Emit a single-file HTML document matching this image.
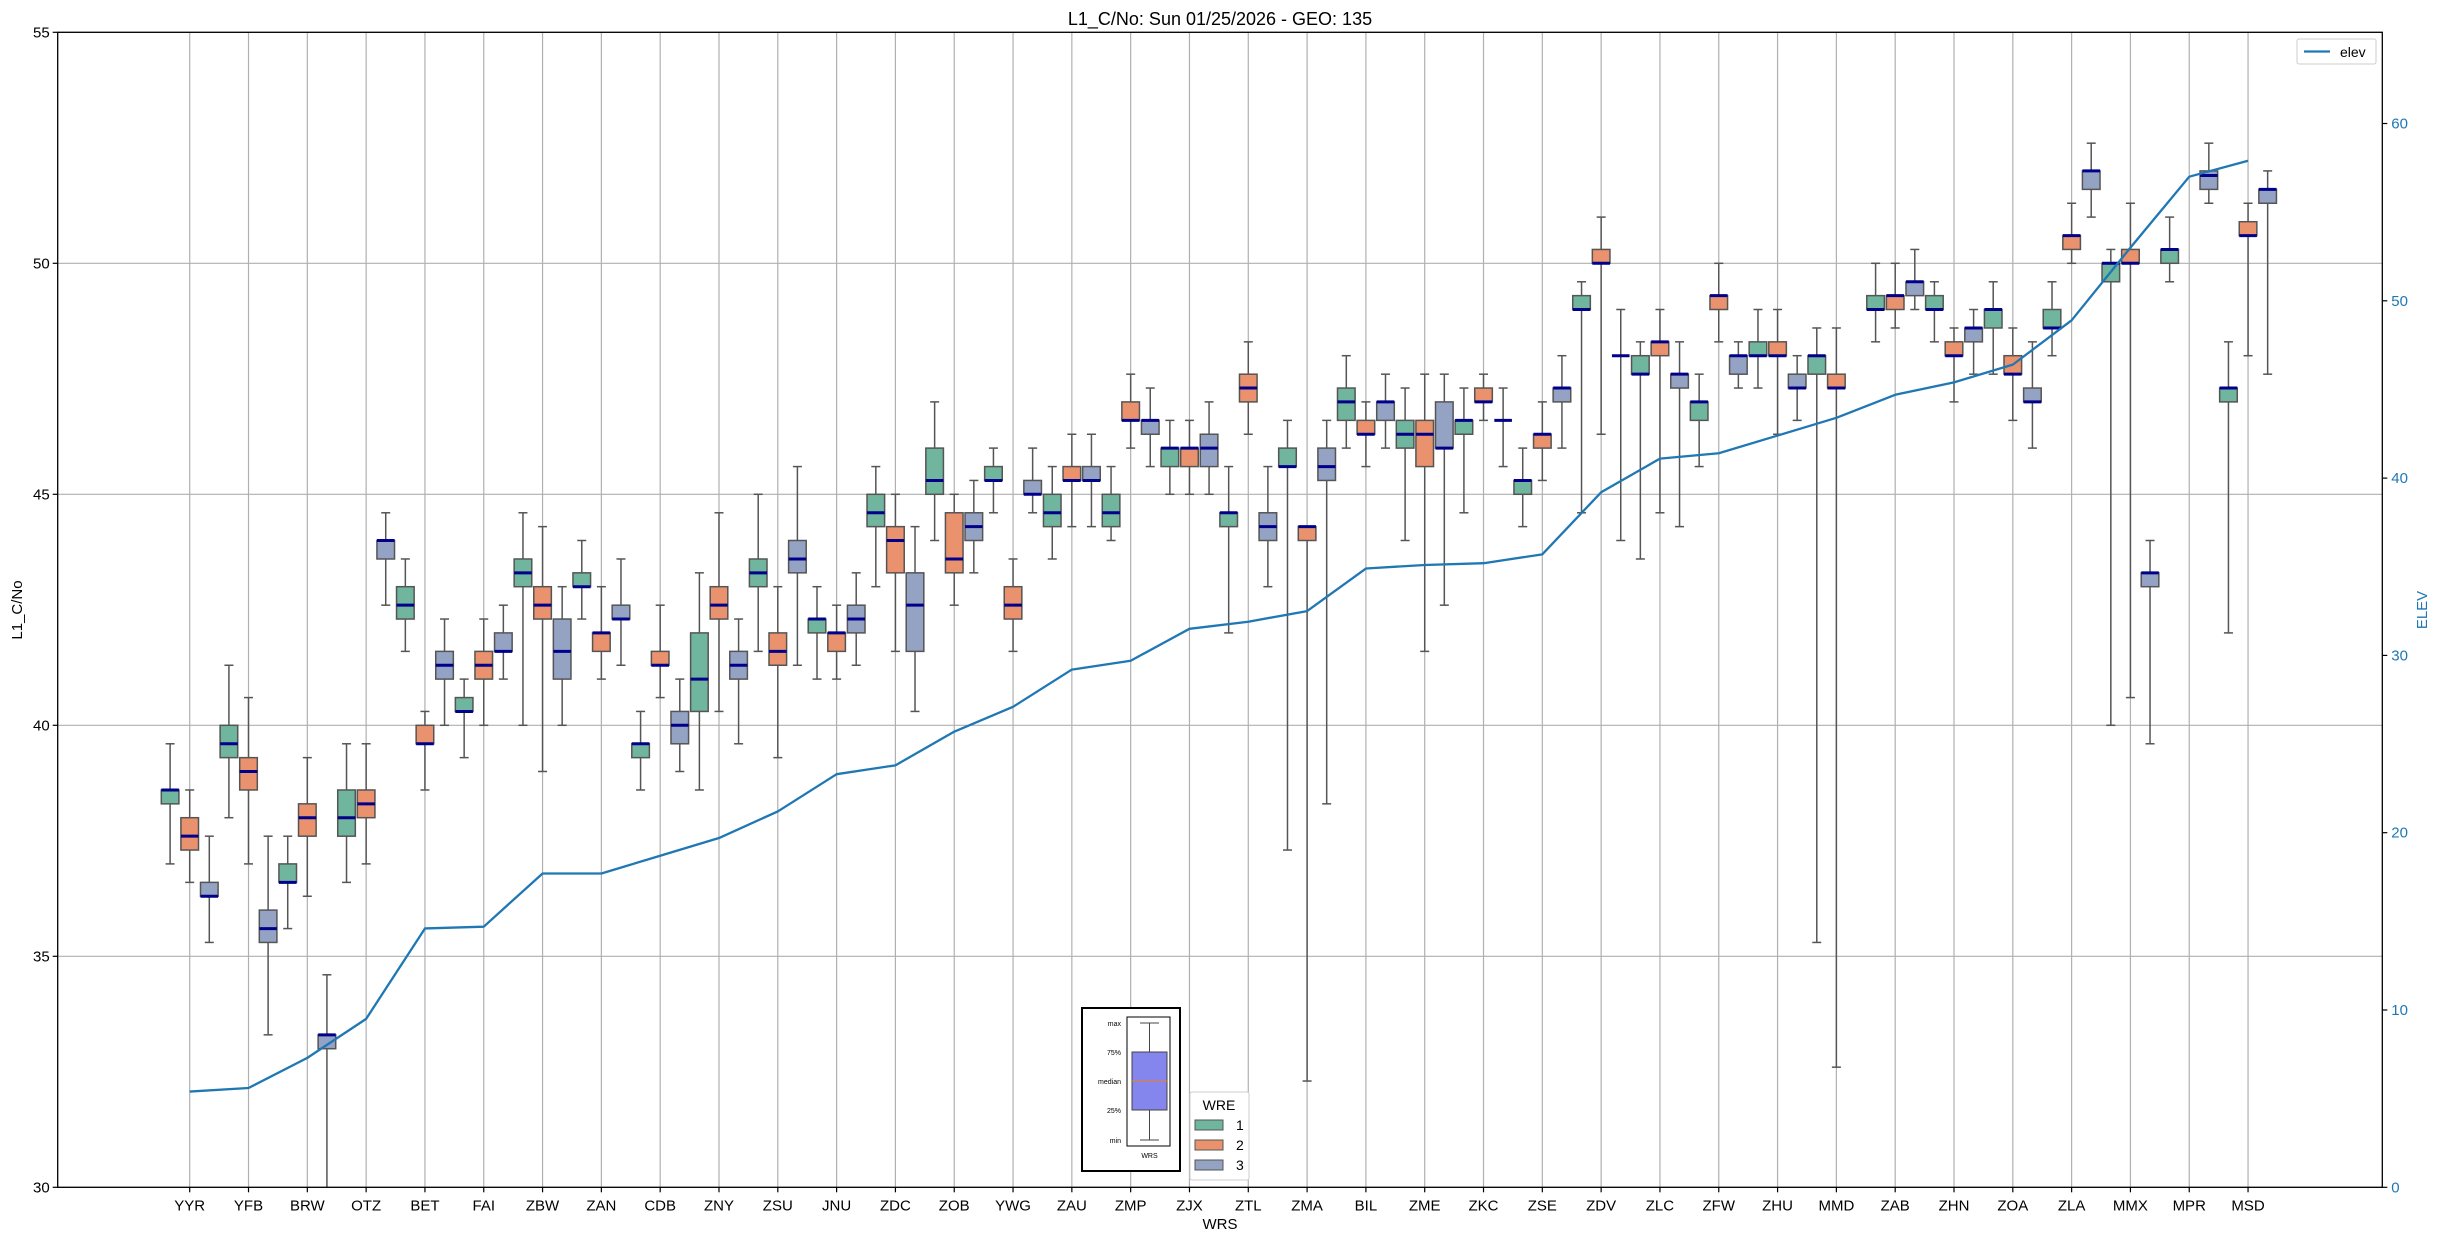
<!DOCTYPE html>
<html><head><meta charset="utf-8">
<style>
html,body{margin:0;padding:0;background:#fff;}
svg{display:block;font-family:"Liberation Sans","DejaVu Sans",sans-serif;}
</style></head>
<body>
<svg id="chart" width="2438" height="1240" viewBox="0 0 2438 1240" xmlns="http://www.w3.org/2000/svg">
<defs><clipPath id="plotclip"><rect x="57.7" y="32.3" width="2324.6" height="1155"/></clipPath></defs>
<rect x="0" y="0" width="2438" height="1240" fill="#fff"/>
<text x="1220" y="25" font-size="18" text-anchor="middle" fill="#000">L1_C/No: Sun 01/25/2026 - GEO: 135</text>
<g id="grid"></g>
<g id="boxes" clip-path="url(#plotclip)"></g>
<g id="elevg"></g>
<g id="axes"></g>
<text transform="translate(22,610) rotate(-90)" font-size="15" text-anchor="middle">L1_C/No</text>
<text transform="translate(2427,610) rotate(-90)" font-size="15" text-anchor="middle" fill="#1f77b4">ELEV</text>
<text x="1220" y="1229" font-size="15" text-anchor="middle">WRS</text>

<g>
<rect x="1082" y="1008" width="98" height="163" fill="#fff" stroke="#000" stroke-width="2"/>
<rect x="1127" y="1017" width="43" height="129" fill="#fff" stroke="#000" stroke-width="1"/>
<line x1="1149.5" y1="1023" x2="1149.5" y2="1140" stroke="#444" stroke-width="1"/>
<line x1="1140" y1="1023" x2="1159" y2="1023" stroke="#444"/>
<line x1="1140" y1="1140" x2="1159" y2="1140" stroke="#444"/>
<rect x="1132" y="1052" width="35" height="58" fill="#8585ee" stroke="#444"/>
<line x1="1132" y1="1081" x2="1167" y2="1081" stroke="#f08020" stroke-width="1"/>
<g font-size="7" text-anchor="end" fill="#000">
<text x="1121" y="1026">max</text><text x="1121" y="1055">75%</text><text x="1121" y="1084">median</text><text x="1121" y="1113">25%</text><text x="1121" y="1143">min</text>
</g>
<text x="1149.5" y="1158" font-size="7" text-anchor="middle">WRS</text>
</g>

<g>
<rect x="1190" y="1092" width="59" height="88" fill="#fff" stroke="#ccc" rx="2"/>
<text x="1219" y="1110" font-size="14" text-anchor="middle">WRE</text>
<rect x="1195" y="1120" width="28" height="10" fill="#70b59d" stroke="#555"/>
<text x="1236" y="1130" font-size="14">1</text>
<rect x="1195" y="1140" width="28" height="10" fill="#e9926d" stroke="#555"/>
<text x="1236" y="1150" font-size="14">2</text>
<rect x="1195" y="1160" width="28" height="10" fill="#94a3c4" stroke="#555"/>
<text x="1236" y="1170" font-size="14">3</text>
</g>

<g>
<rect x="2297" y="39" width="79" height="25" fill="#fff" stroke="#ccc" rx="2"/>
<line x1="2304" y1="51.5" x2="2330" y2="51.5" stroke="#1f77b4" stroke-width="2.3"/>
<text x="2340" y="57" font-size="14">elev</text>
</g>
</svg>
<script>
const cats = ["YYR","YFB","BRW","OTZ","BET","FAI","ZBW","ZAN","CDB","ZNY","ZSU","JNU","ZDC","ZOB","YWG","ZAU","ZMP","ZJX","ZTL","ZMA","BIL","ZME","ZKC","ZSE","ZDV","ZLC","ZFW","ZHU","MMD","ZAB","ZHN","ZOA","ZLA","MMX","MPR","MSD"];
const elev = [5.4,5.6,7.3,9.5,14.6,14.7,17.7,17.7,18.7,19.7,21.2,23.3,23.8,25.7,27.1,29.2,29.7,31.5,31.9,32.5,34.9,35.1,35.2,35.7,39.2,41.1,41.4,42.4,43.4,44.7,45.4,46.4,48.9,53.0,57.0,57.9];
// each entry: [min, q1, median, q3, max]
const wre1 = [[37.0,38.3,38.6,38.6,39.6],[38.0,39.3,39.6,40.0,41.3],[35.6,36.6,36.6,37.0,37.6],[36.6,37.6,38.0,38.6,39.6],[41.6,42.3,42.6,43.0,43.6],[39.3,40.3,40.3,40.6,41.0],[40.0,43.0,43.3,43.6,44.6],[42.3,43.0,43.0,43.3,44.0],[38.6,39.3,39.6,39.6,40.3],[38.6,40.3,41.0,42.0,43.3],[41.6,43.0,43.3,43.6,45.0],[41.0,42.0,42.3,42.3,43.0],[43.0,44.3,44.6,45.0,45.6],[44.0,45.0,45.3,46.0,47.0],[44.6,45.3,45.3,45.6,46.0],[43.6,44.3,44.6,45.0,45.6],[44.0,44.3,44.6,45.0,45.6],[45.0,45.6,46.0,46.0,46.6],[42.0,44.3,44.6,44.6,45.6],[37.3,45.6,45.6,46.0,46.6],[46.0,46.6,47.0,47.3,48.0],[44.0,46.0,46.3,46.6,47.3],[44.6,46.3,46.6,46.6,47.3],[44.3,45.0,45.3,45.3,46.0],[44.6,49.0,49.0,49.3,49.6],[43.6,47.6,47.6,48.0,48.3],[45.6,46.6,47.0,47.0,47.6],[47.3,48.0,48.0,48.3,49.0],[35.3,47.6,48.0,48.0,48.6],[48.3,49.0,49.0,49.3,50.0],[48.3,49.0,49.0,49.3,49.6],[47.6,48.6,49.0,49.0,49.6],[48.0,48.6,48.6,49.0,49.6],[40.0,49.6,50.0,50.0,50.3],[49.6,50.0,50.3,50.3,51.0],[42.0,47.0,47.3,47.3,48.3]];
const wre2 = [[36.6,37.3,37.6,38.0,38.6],[37.0,38.6,39.0,39.3,40.6],[36.3,37.6,38.0,38.3,39.3],[37.0,38.0,38.3,38.6,39.6],[38.6,39.6,39.6,40.0,40.3],[40.0,41.0,41.3,41.6,42.3],[39.0,42.3,42.6,43.0,44.3],[41.0,41.6,42.0,42.0,43.0],[40.6,41.3,41.3,41.6,42.6],[40.3,42.3,42.6,43.0,44.6],[39.3,41.3,41.6,42.0,43.0],[41.0,41.6,42.0,42.0,42.6],[41.6,43.3,44.0,44.3,45.0],[42.6,43.3,43.6,44.6,45.0],[41.6,42.3,42.6,43.0,43.6],[44.3,45.3,45.3,45.6,46.3],[46.0,46.6,46.6,47.0,47.6],[45.0,45.6,46.0,46.0,46.6],[46.3,47.0,47.3,47.6,48.3],[32.3,44.0,44.3,44.3,44.3],[45.6,46.3,46.3,46.6,47.0],[41.6,45.6,46.3,46.6,47.6],[46.6,47.0,47.0,47.3,47.6],[45.3,46.0,46.3,46.3,47.0],[46.3,50.0,50.0,50.3,51.0],[44.6,48.0,48.3,48.3,49.0],[48.3,49.0,49.3,49.3,50.0],[46.3,48.0,48.0,48.3,49.0],[32.6,47.3,47.3,47.6,48.6],[48.6,49.0,49.3,49.3,50.0],[47.0,48.0,48.0,48.3,48.6],[46.6,47.6,47.6,48.0,48.6],[50.0,50.3,50.6,50.6,51.3],[40.6,50.0,50.0,50.3,51.3],null,[48.0,50.6,50.6,50.9,51.3]];
const wre3 = [[35.3,36.3,36.3,36.6,37.6],[33.3,35.3,35.6,36.0,37.6],[29.0,33.0,33.3,33.3,34.6],[42.6,43.6,44.0,44.0,44.6],[40.0,41.0,41.3,41.6,42.3],[41.0,41.6,41.6,42.0,42.6],[40.0,41.0,41.6,42.3,43.0],[41.3,42.3,42.3,42.6,43.6],[39.0,39.6,40.0,40.3,41.0],[39.6,41.0,41.3,41.6,42.3],[41.3,43.3,43.6,44.0,45.6],[41.3,42.0,42.3,42.6,43.3],[40.3,41.6,42.6,43.3,44.3],[43.3,44.0,44.3,44.6,45.3],[44.6,45.0,45.0,45.3,46.0],[44.3,45.3,45.3,45.6,46.3],[45.6,46.3,46.6,46.6,47.3],[45.0,45.6,46.0,46.3,47.0],[43.0,44.0,44.3,44.6,45.6],[38.3,45.3,45.6,46.0,46.6],[46.0,46.6,47.0,47.0,47.6],[42.6,46.0,46.0,47.0,47.6],[45.6,46.6,46.6,46.6,47.3],[46.0,47.0,47.3,47.3,48.0],[44.0,48.0,48.0,48.0,49.0],[44.3,47.3,47.6,47.6,48.3],[47.3,47.6,48.0,48.0,48.3],[46.6,47.3,47.3,47.6,48.0],null,[49.0,49.3,49.6,49.6,50.3],[47.6,48.3,48.6,48.6,49.0],[46.0,47.0,47.0,47.3,48.3],[51.0,51.6,52.0,52.0,52.6],[39.6,43.0,43.3,43.3,44.0],[51.3,51.6,51.9,52.0,52.6],[47.6,51.3,51.6,51.6,52.0]];
const yTicks = [30,35,40,45,50,55];
const y2Ticks = [0,10,20,30,40,50,60];
const hueNames = ["1","2","3"];

const NS="http://www.w3.org/2000/svg";
const L=57.7,R=2382.3,T=32.3,B=1187.3;
function xPos(i){return 189.7+i*58.81;}
function yPos(v){return T+(55-v)*46.2;}
function y2Pos(v){return B-v*17.73;}
function mk(tag,attrs,parent){const e=document.createElementNS(NS,tag);for(const k in attrs)e.setAttribute(k,attrs[k]);parent.appendChild(e);return e;}

const grid=document.getElementById('grid'),boxes=document.getElementById('boxes'),axes=document.getElementById('axes'),elevg=document.getElementById('elevg');
yTicks.forEach(v=>{const g=mk('line',{x1:L,x2:R,y1:yPos(v),y2:yPos(v),stroke:'#b0b0b0','stroke-width':1.2},grid);

});
cats.forEach((c,i)=>{const g=mk('line',{x1:xPos(i),x2:xPos(i),y1:T,y2:B,stroke:'#b0b0b0','stroke-width':1.2},grid);

});

const fills=["#70b59d","#e9926d","#94a3c4"];
[wre1,wre2,wre3].forEach((series,h)=>{
  series.forEach((d,i)=>{
    if(!d) return;
    const cx=xPos(i)+(h-1)*19.6, w=17.6;
    const g=mk('g',{},boxes);
    
    
    mk('line',{x1:cx,x2:cx,y1:yPos(d[0]),y2:yPos(d[1]),stroke:'#555','stroke-width':1.5},g);
    mk('line',{x1:cx,x2:cx,y1:yPos(d[3]),y2:yPos(d[4]),stroke:'#555','stroke-width':1.5},g);
    mk('line',{x1:cx-4.5,x2:cx+4.5,y1:yPos(d[0]),y2:yPos(d[0]),stroke:'#555','stroke-width':1.5},g);
    mk('line',{x1:cx-4.5,x2:cx+4.5,y1:yPos(d[4]),y2:yPos(d[4]),stroke:'#555','stroke-width':1.5},g);
    const top=yPos(d[3]),bot=yPos(d[1]);
    if(bot-top>0.5) mk('rect',{x:cx-w/2,y:top,width:w,height:bot-top,fill:fills[h],stroke:'#555','stroke-width':1.5},g);
    mk('line',{x1:cx-w/2,x2:cx+w/2,y1:yPos(d[2]),y2:yPos(d[2]),stroke:'#00008b','stroke-width':3},g);
  });
});

// elev line
let pts=elev.map((v,i)=>xPos(i)+','+y2Pos(v)).join(' ');
const pl=mk('polyline',{points:pts,fill:'none',stroke:'#1f77b4','stroke-width':2.3,'stroke-linejoin':'round'},elevg);



// axes frame
mk('rect',{x:L,y:T,width:R-L,height:B-T,fill:'none',stroke:'#000','stroke-width':1.3},axes);
yTicks.forEach(v=>{
  mk('line',{x1:L-5,x2:L,y1:yPos(v),y2:yPos(v),stroke:'#000','stroke-width':1.2},axes);
  const t=mk('text',{x:L-8,y:yPos(v)+5,'font-size':15,'text-anchor':'end'},axes);t.textContent=v;
  
  
});
y2Ticks.forEach(v=>{
  mk('line',{x1:R,x2:R+5,y1:y2Pos(v),y2:y2Pos(v),stroke:'#000','stroke-width':1.2},axes);
  const t=mk('text',{x:R+9,y:y2Pos(v)+5,'font-size':15,fill:'#1f77b4'},axes);t.textContent=v;
  
  
});
cats.forEach((c,i)=>{
  mk('line',{x1:xPos(i),x2:xPos(i),y1:B,y2:B+5,stroke:'#000','stroke-width':1.2},axes);
  const t=mk('text',{x:xPos(i),y:B+23,'font-size':15,'text-anchor':'middle'},axes);t.textContent=c;
  
  
});
</script>
</body></html>
